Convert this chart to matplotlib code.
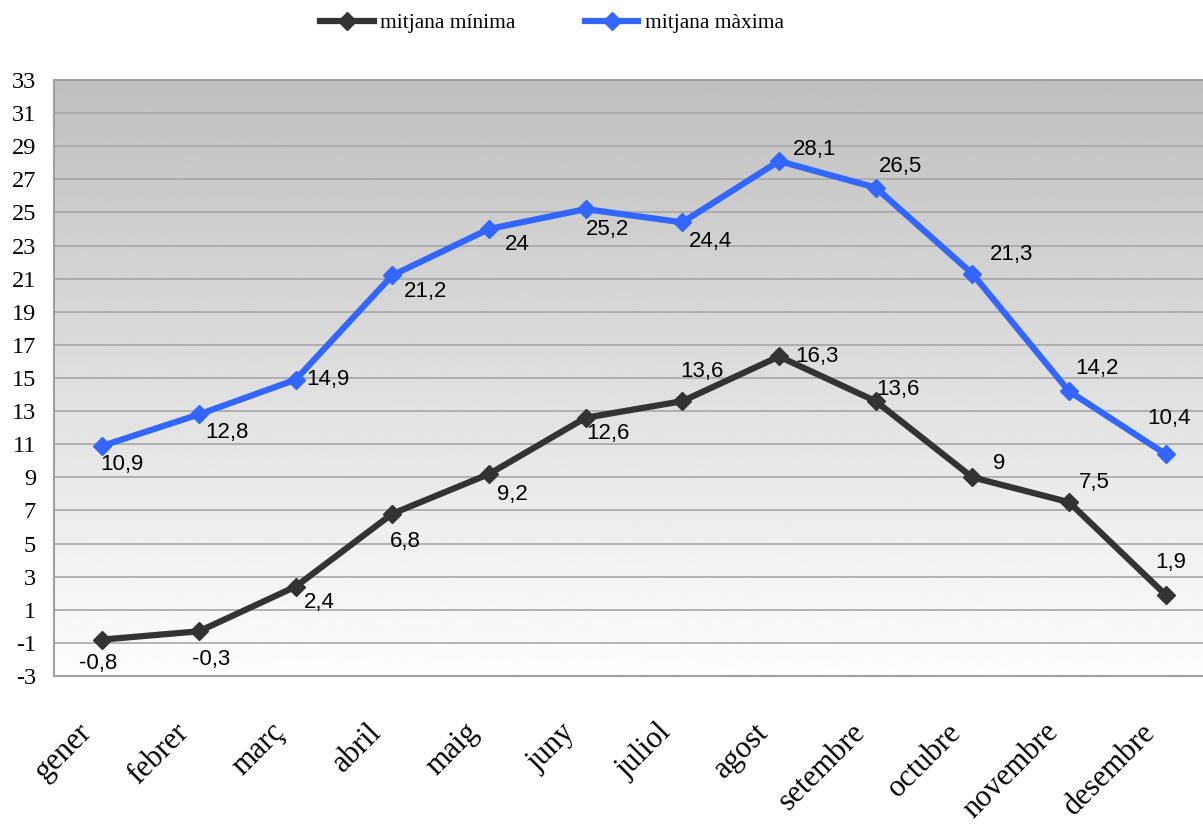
import matplotlib
matplotlib.use("Agg")
import matplotlib.pyplot as plt
import matplotlib.transforms as mtransforms
import numpy as np

months = ["gener", "febrer", "març", "abril", "maig", "juny",
          "juliol", "agost", "setembre", "octubre", "novembre", "desembre"]
t_min = [-0.8, -0.3, 2.4, 6.8, 9.2, 12.6, 13.6, 16.3, 13.6, 9.0, 7.5, 1.9]
t_max = [10.9, 12.8, 14.9, 21.2, 24.0, 25.2, 24.4, 28.1, 26.5, 21.3, 14.2, 10.4]
y_ticks = list(range(-3, 34, 2))

# label offsets in pixels (dx, dy)
off_min = [(-4, -24), (12, -28), (24, -16), (13, -28), (23, -20), (22, -16),
           (20, 30), (38, 0), (22, 12), (27, 14), (25, 20), (5, 32)]
off_max = [(20, -19), (28, -18), (32, 0), (33, -16), (28, -15), (22, -20),
           (28, -19), (36, 12), (25, 21), (39, 19), (28, 23), (3, 36)]

SERIF = "Liberation Serif"
SANS = "Liberation Sans"
C_MIN = "#333333"
C_MAX = "#3366ff"


def fmt(v):
    s = f"{v:.1f}".replace(".", ",")
    return s[:-2] if s.endswith(",0") else s


fig = plt.figure(figsize=(12.03, 8.25), dpi=100)
ax = fig.add_axes((54 / 1203, 149 / 825, 1160 / 1203, 596 / 825))

x = np.arange(len(months))
ax.set_xlim(-0.5, len(months) - 0.5)
ax.set_ylim(-3, 33)

# grey gradient background
grad = np.linspace(0.75, 0.995, 256).reshape(-1, 1)
ax.imshow(grad, cmap="gray", vmin=0, vmax=1, aspect="auto",
          extent=(0, 1, 0, 1), transform=ax.transAxes, zorder=0, origin="upper")

ax.set_yticks(y_ticks)
ax.yaxis.grid(True, color="#a6a6a6", linewidth=1.2, zorder=1)
ax.set_axisbelow(True)

ax.plot(x, t_min, color=C_MIN, linewidth=4.5, marker="D", markersize=9,
        label="mitjana mínima", zorder=3)
ax.plot(x, t_max, color=C_MAX, linewidth=4.5, marker="D", markersize=9,
        label="mitjana màxima", zorder=3)

for xi, v, (dx, dy) in zip(x, t_min, off_min):
    ax.annotate(fmt(v), (xi, v), xytext=(dx, dy), textcoords="offset pixels",
                ha="center", va="center", fontsize=16, family=SANS, zorder=4)
for xi, v, (dx, dy) in zip(x, t_max, off_max):
    ax.annotate(fmt(v), (xi, v), xytext=(dx, dy), textcoords="offset pixels",
                ha="center", va="center", fontsize=16, family=SANS, zorder=4)

# month labels, rotated, right end anchored below each category
ax.set_xticks(x)
ax.set_xticklabels([])
lab_tr = ax.get_xaxis_transform() + mtransforms.ScaledTranslation(
    -15 / 100, -52 / 100, fig.dpi_scale_trans)
for xi, m in zip(x, months):
    ax.text(xi, 0, m, transform=lab_tr, rotation=45, ha="right", va="center",
            rotation_mode="anchor", fontsize=22, family=SERIF)

ax.set_yticklabels([str(v) for v in y_ticks], fontsize=17.5, family=SERIF)
ax.tick_params(axis="x", length=0)
ax.tick_params(axis="y", length=0, pad=13)

for side in ("left", "bottom", "top"):
    ax.spines[side].set_color("#a0a0a0")
    ax.spines[side].set_linewidth(1.5)
ax.spines["right"].set_visible(False)

fig.legend(loc="center", bbox_to_anchor=(552 / 1203, 1 - 23 / 825), ncol=2,
           frameon=False, prop={"family": SERIF, "size": 15.5},
           handlelength=2.5, handletextpad=0.3, columnspacing=3.2)

fig.savefig("out.png", dpi=100)
